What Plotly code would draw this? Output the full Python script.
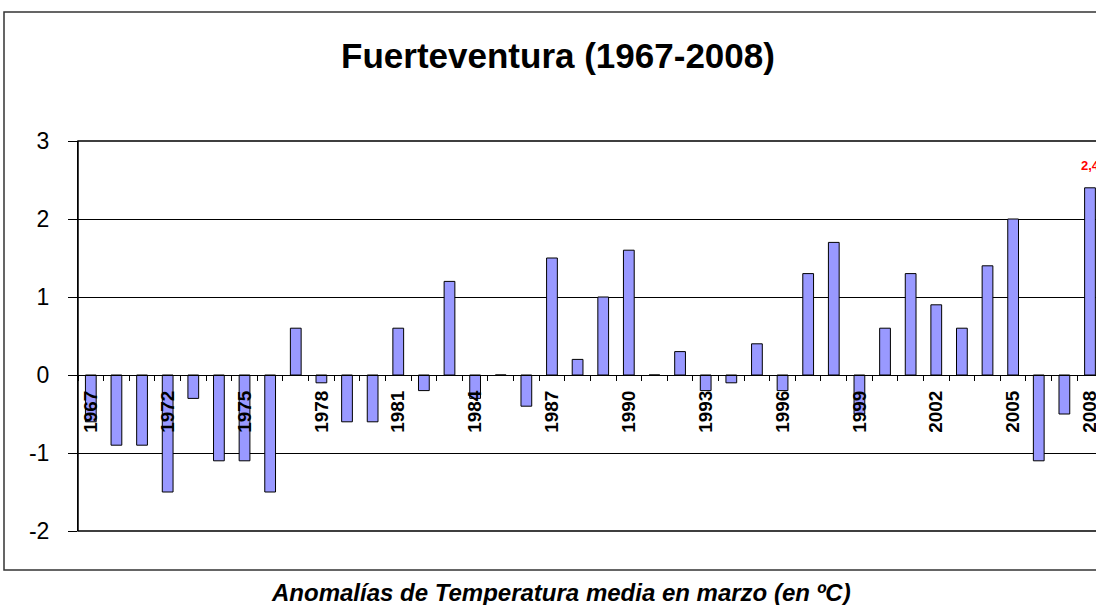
import plotly.graph_objects as go

# ---- data ----
years = ["1967"] + [str(y) for y in range(1970, 2009)]
anomalies = [-0.6, -0.9, -0.9, -1.5, -0.3, -1.1, -1.1, -1.5, 0.6, -0.1,
             -0.6, -0.6, 0.6, -0.2, 1.2, -0.3, 0.0, -0.4, 1.5, 0.2,
             1.0, 1.6, 0.0, 0.3, -0.2, -0.1, 0.4, -0.2, 1.3, 1.7,
             -0.5, 0.6, 1.3, 0.9, 0.6, 1.4, 2.0, -1.1, -0.5, 2.4]
tick_labels = [y if i % 3 == 0 else "" for i, y in enumerate(years)]
y_tickvals = [-2, -1, 0, 1, 2, 3]
y_ticktext = ["-2", "-1", "0", "1", "2", "3"]
title_text = "Fuerteventura (1967-2008)"
axis_caption = "Anomalías de Temperatura media en marzo (en ºC)"
last_label = f"{anomalies[-1]:.1f}".replace(".", ",")

FONT = "Liberation Sans, Arial, sans-serif"
W, H = 1096, 605
ML, MR, MT = 78, 0, 141
PB = 531  # plot bottom in px
MB = H - PB
pw = W - ML - MR
ph = PB - MT
cat_w = 25.62


def px_x(x):  # page px -> paper x
    return (x - ML) / pw


def px_y(y):  # page px -> paper y
    return (PB - y) / ph


fig = go.Figure()
fig.add_trace(go.Bar(
    x=years, y=anomalies,
    marker=dict(color="#9999FF", line=dict(color="black", width=1)),
    width=0.42,
    hoverinfo="x+y",
))
fig.add_trace(go.Scatter(
    x=[years[-1]], y=[anomalies[-1]],
    mode="markers+text", text=["<b>" + last_label + "</b>"],
    textposition="top center",
    marker=dict(size=22, opacity=0),
    textfont=dict(size=13, family=FONT, color="red"),
    cliponaxis=False, hoverinfo="skip",
))

fig.update_layout(
    width=W, height=H,
    margin=dict(l=ML, r=MR, t=MT, b=MB, autoexpand=False),
    paper_bgcolor="white", plot_bgcolor="white",
    showlegend=False,
    font=dict(family=FONT, color="black"),
    title=dict(text="<b>" + title_text + "</b>", x=558 / W, xref="container",
               xanchor="center", y=1 - 56 / H, yref="container", yanchor="middle",
               font=dict(size=35, family=FONT, color="black")),
    xaxis=dict(
        type="category",
        range=[-0.5, -0.5 + pw / cat_w],
        anchor="free", position=0.4,
        showline=True, linecolor="black", linewidth=1,
        showgrid=False, zeroline=False,
        tickmode="array", tickvals=years, ticktext=tick_labels,
        tickson="boundaries",
        ticks="outside", ticklen=5, tickcolor="black", tickwidth=1,
        tickangle=-90,
        ticklabelstandoff=7,
        tickfont=dict(size=19, family=FONT, color="black", weight="bold"),
    ),
    yaxis=dict(
        range=[-2, 3],
        tickmode="array", tickvals=y_tickvals, ticktext=y_ticktext,
        showline=True, linecolor="black", linewidth=1,
        showgrid=True, gridcolor="black", gridwidth=1,
        zeroline=False,
        ticks="outside", ticklen=9, tickcolor="black", tickwidth=1,
        tickfont=dict(size=23, family=FONT, color="black"),
        ticklabelstandoff=14,
    ),
    shapes=[
        # plot area border
        dict(type="rect", xref="paper", yref="paper", x0=0, x1=1.05, y0=0, y1=1,
             line=dict(color="black", width=1.5), layer="below"),
        # outer chart border
        dict(type="rect", xref="paper", yref="paper",
             x0=px_x(4), x1=1.05, y0=px_y(570), y1=px_y(12),
             line=dict(color="#333333", width=1.5), layer="below"),
    ],
    annotations=[
        dict(text="<b><i>" + axis_caption + "</i></b>", xref="paper", yref="paper",
             x=px_x(561), y=px_y(592), xanchor="center", yanchor="middle",
             showarrow=False, font=dict(size=24, family=FONT, color="black")),
    ],
)

fig.write_html("out.html",
               config={"displayModeBar": False},
               post_script="document.body.style.margin='0';document.body.style.overflow='hidden';")
